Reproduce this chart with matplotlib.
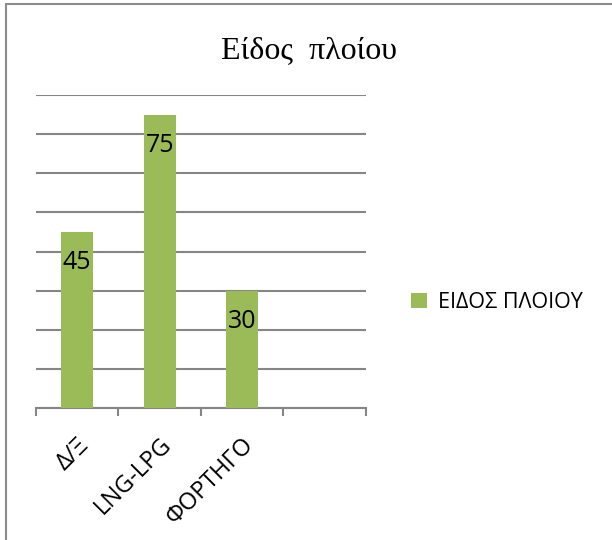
import matplotlib
matplotlib.use("Agg")
from matplotlib import pyplot as plt
from matplotlib.patches import Rectangle
import numpy as np

# chart data
categories = ["Δ/Ξ", "LNG-LPG", "ΦΟΡΤΗΓΟ", ""]
values = [45, 75, 30, np.nan]
series_name = "ΕΙΔΟΣ ΠΛΟΙΟΥ"

bar_color = "#9BBB59"
grid_color = "#868686"
sans = ["Open Sans", "DejaVu Sans"]

fig = plt.figure(figsize=(6.12, 5.4), dpi=100)
ax = fig.add_axes([0.0588, 0.2444, 0.5392, 0.5796])

x = np.arange(len(categories))
bars = ax.bar(x, values, width=0.39, color=bar_color, label=series_name, zorder=3)

# data labels inside the top of each bar
for xi, v in zip(x, values):
    if np.isnan(v):
        continue
    ax.annotate(str(int(v)), (xi, v), xytext=(0, -22), textcoords="offset points",
                ha="center", va="center", fontsize=18, family=sans, zorder=4)

ax.set_xlim(-0.5, len(categories) - 0.5)
ax.set_ylim(0, 80)
ax.set_yticks(np.arange(0, 81, 10))
ax.yaxis.grid(True, color=grid_color, linewidth=1.5, zorder=0)
ax.tick_params(axis="y", length=0, labelleft=False)

# category tick marks at slot boundaries, labels at centers
ax.set_xticks(np.arange(-0.5, len(categories), 1.0))
ax.set_xticklabels([])
ax.tick_params(axis="x", which="major", direction="out", length=6, width=1.5, color=grid_color)
ax.set_xticks(x, minor=True)
ax.set_xticklabels(categories, minor=True, rotation=45, ha="right", va="top",
                   rotation_mode="anchor", fontsize=17, family=sans)
ax.tick_params(axis="x", which="minor", length=0, pad=18)

for side in ["left", "right", "top"]:
    ax.spines[side].set_visible(False)
ax.spines["bottom"].set_color(grid_color)
ax.spines["bottom"].set_linewidth(1.5)

fig.text(0.505, 0.907, "Είδος  πλοίου", ha="center", va="center",
         fontsize=23, family="Liberation Serif")

fig.legend(handles=[bars], labels=[series_name], loc="center left",
           bbox_to_anchor=(0.64, 0.44), frameon=False,
           prop={"family": sans, "size": 15.5}, handlelength=0.75, handleheight=0.75,
           handletextpad=0.5)

# chart area border
fig.patches.append(Rectangle((0.009, -0.01), 1.0, 1.003, transform=fig.transFigure,
                             fill=False, edgecolor="#8c8c8c", linewidth=1.5))

fig.savefig("out.png", dpi=100)
